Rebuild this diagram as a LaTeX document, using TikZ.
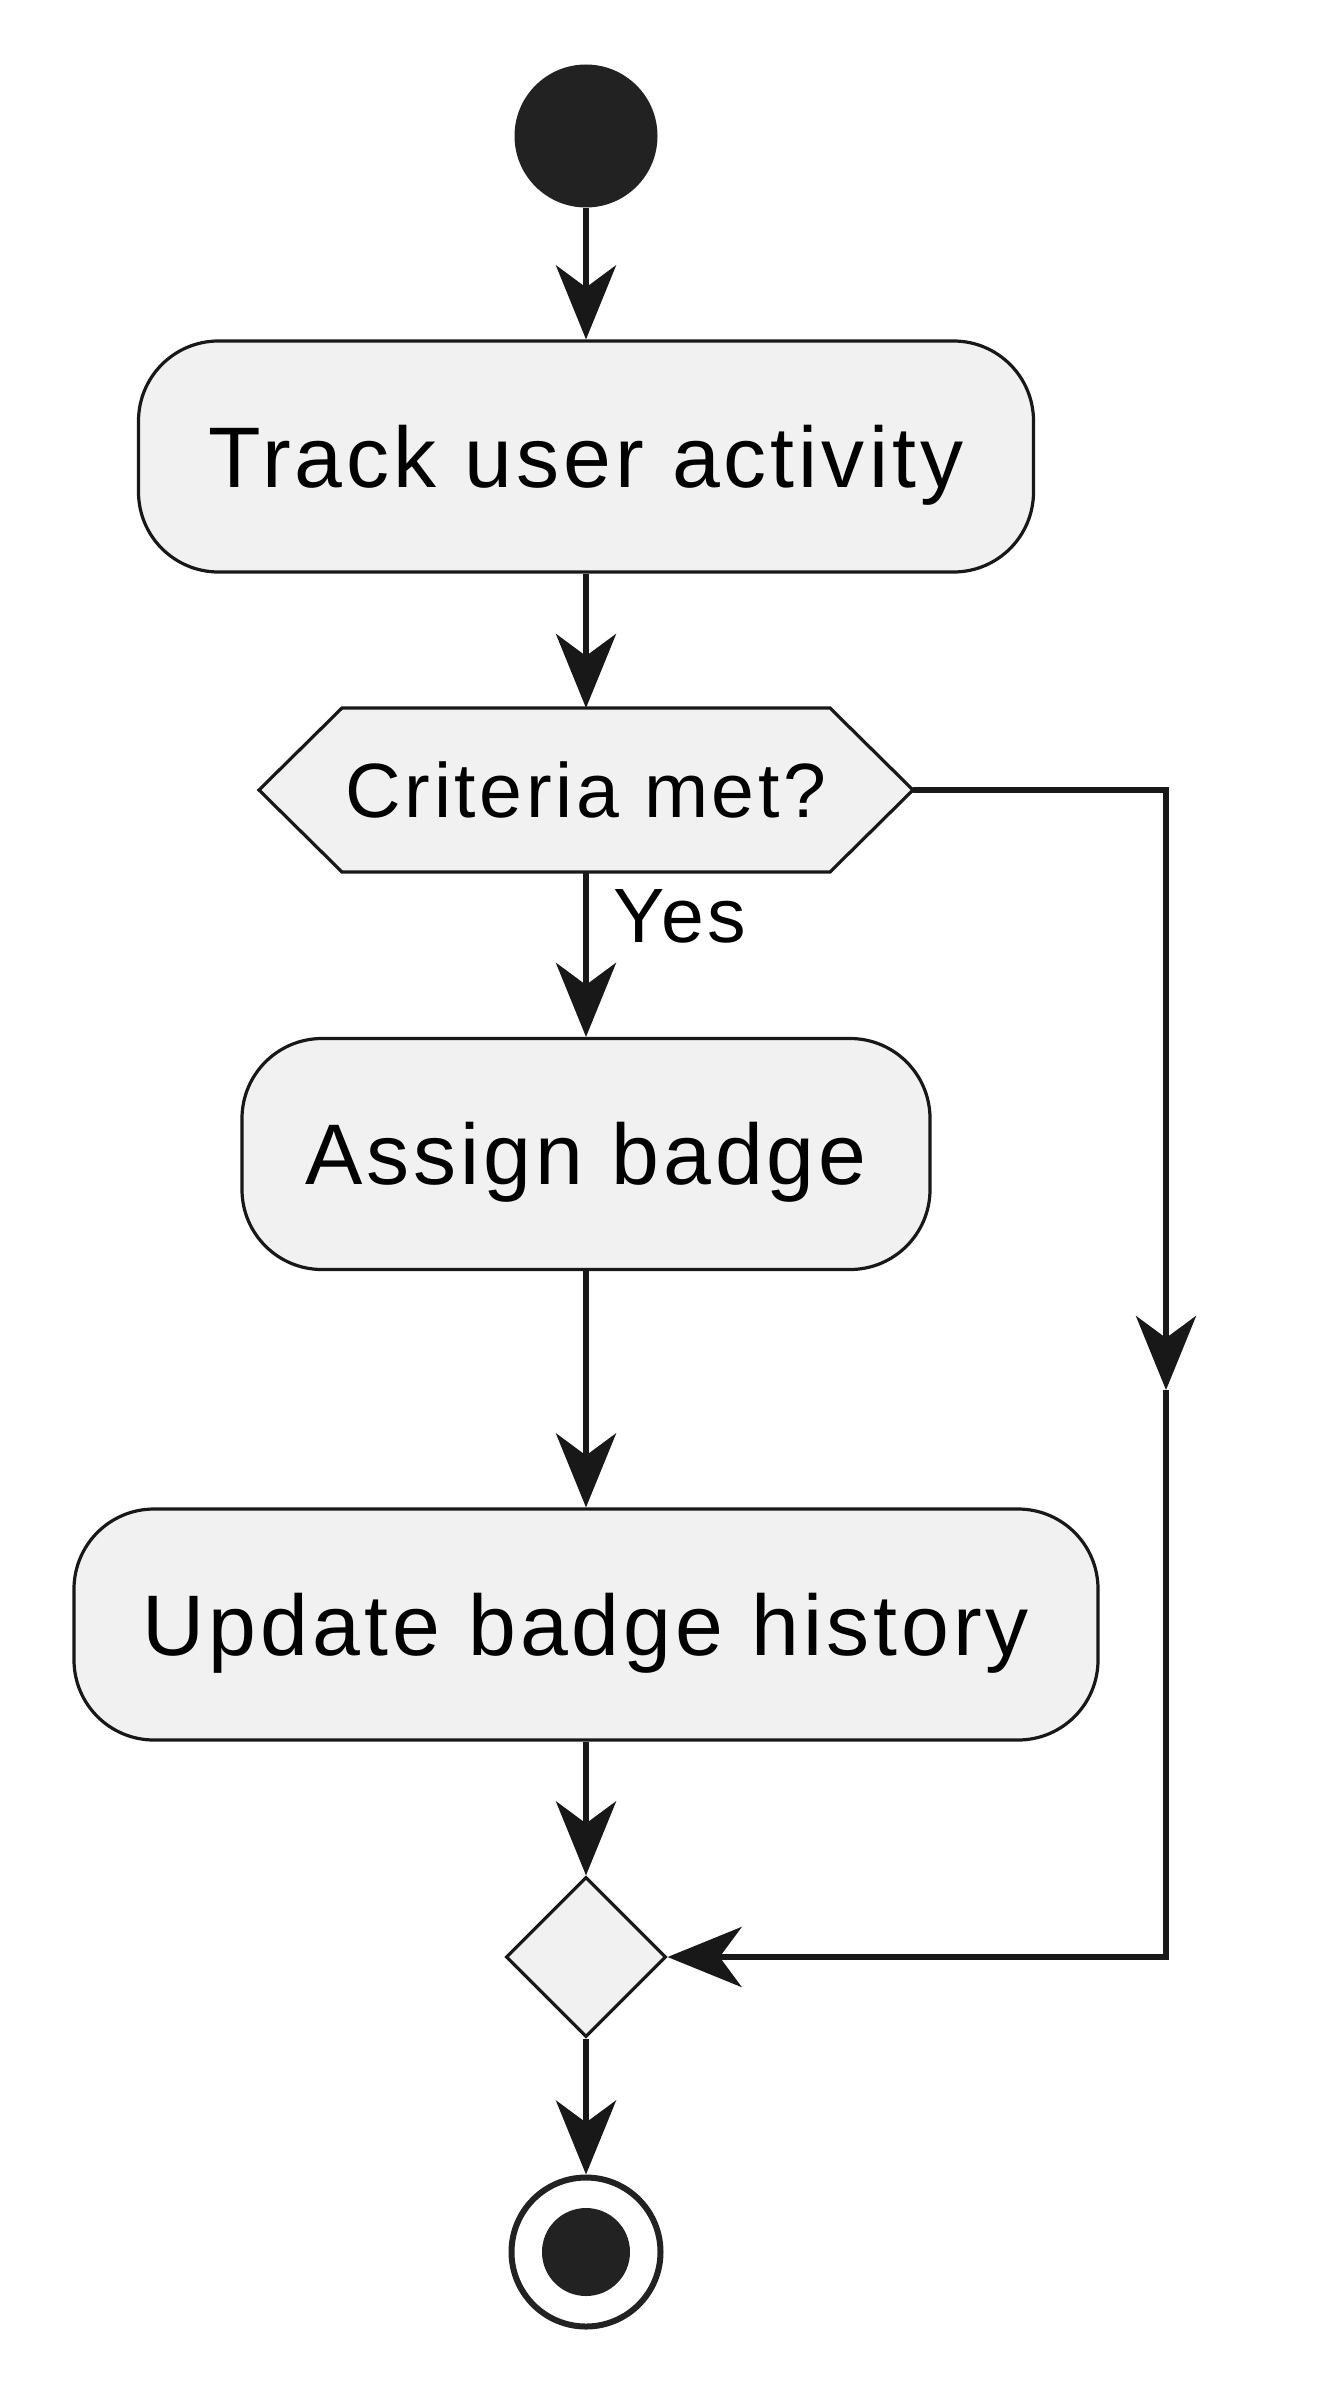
\documentclass[tikz,border=0pt]{standalone}
\usepackage{fontspec}
\setmainfont{Liberation Sans}
\newfontfamily\labfont[LetterSpace=4.7]{Liberation Sans}
\usetikzlibrary{arrows.meta,shapes.geometric}
\definecolor{boxfill}{HTML}{F1F1F1}
\definecolor{edge}{HTML}{181818}
\definecolor{dot}{HTML}{222222}
\begin{document}
\begin{tikzpicture}[x=1pt,y=-1pt,
  act/.style={draw=edge,line width=3.2pt,fill=boxfill,rounded corners=80pt,inner sep=0pt,
    minimum height=231pt,text height=61.5pt,text depth=0pt,
    font=\labfont\fontsize{86}{100}\selectfont},
  smalltext/.style={inner sep=0pt,font=\labfont\fontsize{77}{90}\selectfont},
  flow/.style={draw=edge,line width=6pt,-{Stealth[length=74pt 0,width=60pt 0,inset=22pt 0]}},
  ]
\useasboundingbox (0,0) rectangle (1336,2400);
% start
\node[circle,fill=dot,minimum size=143pt,inner sep=0pt] (start) at (586,136) {};
% activity
\node[act,minimum width=895pt] (track) at (586,456.5) {Track user activity};
% decision hexagon
\draw[draw=edge,line width=3.2pt,fill=boxfill,line join=miter]
  (259,790) -- (342,708) -- (830,708) -- (913,790) -- (830,872) -- (342,872) -- cycle;
\node[smalltext,text height=55pt,text depth=0pt] (dec) at (586,790) {Criteria met?};
\coordinate (decN) at (586,708);
\coordinate (decS) at (586,872);
\coordinate (decE) at (913,790);
% activities
\node[act,minimum width=688pt] (assign) at (586,1154) {Assign badge};
\node[act,minimum width=1024pt] (update) at (586,1624.5) {Update badge history};
% merge
\node[diamond,draw=edge,line width=3.2pt,fill=boxfill,minimum width=160pt,minimum height=160pt,inner sep=0pt] (merge) at (586,1957) {};
% end
\node[circle,draw=dot,line width=6pt,fill=white,minimum size=149pt,inner sep=0pt] (end) at (586,2252) {};
\node[circle,fill=dot,minimum size=88pt,inner sep=0pt] (enddot) at (586,2252) {};
% connectors
\draw[flow] (start) -- (track);
\draw[flow] (track) -- (decN);
\draw[flow] (decS) -- (assign);
\node[smalltext,anchor=base west] (yes) at (613,942) {Yes};
\draw[flow] (assign) -- (update);
\draw[flow] (update) -- (merge);
\coordinate (rtop) at (1166,790);
\coordinate (rmid) at (1166,1390);
\coordinate (rbot) at (1166,1957);
\draw[flow] (decE) -- (rtop) -- (rmid);
\draw[flow] (rmid) -- (rbot) -- (merge.east);
\draw[flow] (merge) -- (end);
\end{tikzpicture}
\end{document}
